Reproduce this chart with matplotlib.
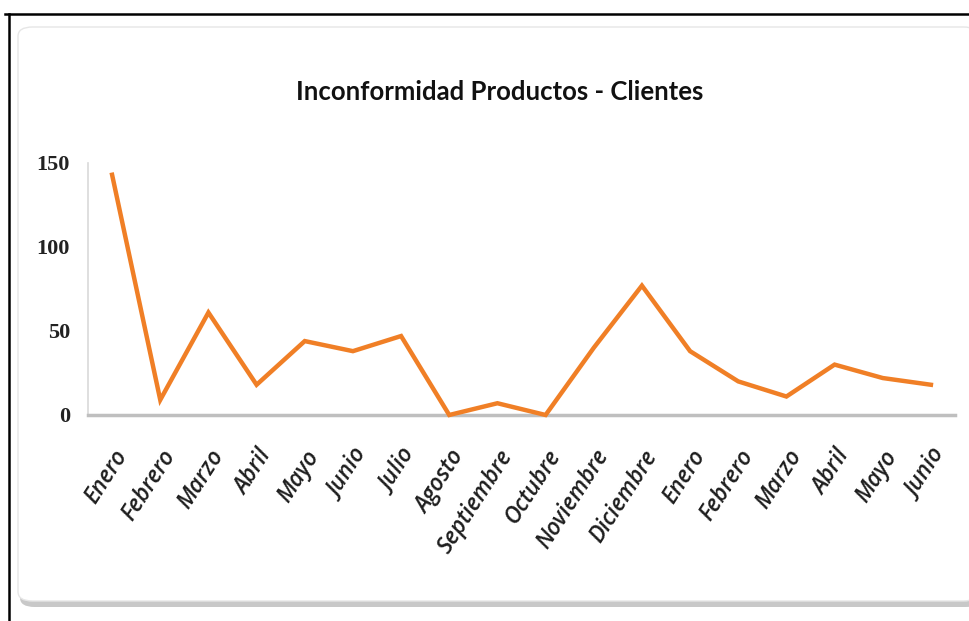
import matplotlib
matplotlib.use("Agg")
import matplotlib.pyplot as plt
from matplotlib.patches import FancyBboxPatch
from matplotlib.lines import Line2D

# data
meses = ['Enero', 'Febrero', 'Marzo', 'Abril', 'Mayo', 'Junio', 'Julio', 'Agosto',
         'Septiembre', 'Octubre', 'Noviembre', 'Diciembre', 'Enero', 'Febrero',
         'Marzo', 'Abril', 'Mayo', 'Junio']
inconformidades = [143, 9, 61, 18, 44, 38, 47, 0, 7, 0, 40, 77, 38, 20, 11, 30, 22, 18]
y_ticks = [0, 50, 100, 150]

W, H = 969, 621
fig = plt.figure(figsize=(W / 100, H / 100), dpi=100)
fig.patch.set_facecolor('white')

# outer black frame (top and left only, as in the screenshot)
fig.add_artist(Line2D([5 / W, 1], [1 - 14 / H, 1 - 14 / H], color='black', lw=1.8))
fig.add_artist(Line2D([9 / W, 9 / W], [0, 1 - 14 / H], color='black', lw=1.8))

# chart area card with shadow
shadow = FancyBboxPatch((20 / W, 1 - 607 / H), 960 / W, 578 / H,
                        boxstyle="round,pad=0,rounding_size=0.015",
                        transform=fig.transFigure, facecolor='#c8c8c8',
                        edgecolor='none', zorder=-2)
card = FancyBboxPatch((18 / W, 1 - 601 / H), 960 / W, 574 / H,
                      boxstyle="round,pad=0,rounding_size=0.015",
                      transform=fig.transFigure, facecolor='white',
                      edgecolor='#e6e6e6', lw=1, zorder=-1)
fig.add_artist(shadow)
fig.add_artist(card)

ax = fig.add_axes([88 / W, 1 - 415 / H, 867 / W, 252 / H])
ax.set_facecolor('none')

x = list(range(len(meses)))
ax.plot(x, inconformidades, color='#F07F26', lw=3.2, solid_joinstyle='miter',
        clip_on=False, zorder=3)

ax.set_xlim(-0.5, len(meses) - 0.5)
ax.set_ylim(0, 150)
ax.set_yticks(y_ticks)
ax.set_yticklabels([str(v) for v in y_ticks], family=['Liberation Serif', 'DejaVu Serif'],
                   fontsize=16, fontweight='bold', color='#222222')
ax.set_xticks(x)
ax.set_xticklabels(meses, rotation=57, ha='right', rotation_mode='anchor',
                   family=['Open Sans', 'DejaVu Sans'], style='italic',
                   fontweight='semibold', fontsize=16.5, color='#1e1e1e')
ax.tick_params(axis='both', length=0)
ax.tick_params(axis='y', pad=13)
ax.tick_params(axis='x', pad=22)

for s in ['top', 'right']:
    ax.spines[s].set_visible(False)
ax.spines['left'].set_color('#d9d9d9')
ax.spines['left'].set_linewidth(1.2)
ax.spines['bottom'].set_color('#bfbfbf')
ax.spines['bottom'].set_linewidth(2.5)

fig.text(500 / W, 1 - 92 / H, 'Inconformidad Productos - Clientes',
         ha='center', va='center', fontsize=18.5, fontweight='bold',
         family=['Lato', 'DejaVu Sans'], color='#111111')

fig.savefig('out.png', dpi=100, facecolor='white')
